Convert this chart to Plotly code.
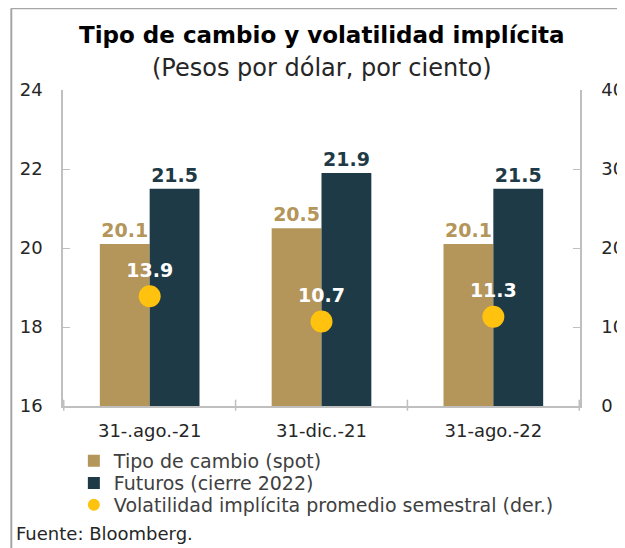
import plotly.graph_objects as go

categories = ["31-.ago.-21", "31-dic.-21", "31-ago.-22"]
spot = [20.1, 20.5, 20.1]
futuros = [21.5, 21.9, 21.5]
volatilidad = [13.9, 10.7, 11.3]

GOLD = "#B4955A"
DARK = "#1E3A46"
YELLOW = "#FFC20E"
FONT = "DejaVu Sans"

legend_x = 0.021
legend_rows = [-0.174, -0.244, -0.313]

fig = go.Figure()
fig.add_trace(go.Bar(
    x=categories, y=spot, name="Tipo de cambio (spot)", legend="legend",
    marker=dict(color=GOLD, line=dict(width=0)),
    text=[f"{v:.1f}" for v in spot], textposition="outside",
    textfont=dict(color=GOLD, size=19, family=FONT, weight="bold"),
    cliponaxis=False,
))
fig.add_trace(go.Bar(
    x=categories, y=futuros, name="Futuros (cierre 2022)", legend="legend2",
    marker=dict(color=DARK, line=dict(width=0)),
    text=[f"{v:.1f}" for v in futuros], textposition="outside",
    textfont=dict(color=DARK, size=19, family=FONT, weight="bold"),
    cliponaxis=False,
))
fig.add_trace(go.Scatter(
    x=categories, y=volatilidad, yaxis="y2", mode="markers+text", legend="legend3",
    name="Volatilidad implícita promedio semestral (der.)",
    marker=dict(color=YELLOW, size=22),
    text=[f"{v:.1f}" for v in volatilidad], textposition="top center",
    textfont=dict(color="white", size=19, family=FONT, weight="bold"),
    cliponaxis=False,
))

axis_color = "#BFBFBF"
legend_common = dict(x=legend_x, xanchor="left", yanchor="middle",
                     font=dict(size=19, color="#404040"), itemsizing="constant",
                     bgcolor="rgba(0,0,0,0)", itemwidth=30)

fig.update_layout(
    width=625, height=548,
    margin=dict(l=55, r=53, t=82, b=150, autoexpand=False),
    paper_bgcolor="white", plot_bgcolor="white",
    font=dict(family=FONT, color="#262626"),
    barmode="group", bargap=0.42, bargroupgap=0,
    showlegend=True,
    legend=dict(y=legend_rows[0], **legend_common),
    legend2=dict(y=legend_rows[1], **legend_common),
    legend3=dict(y=legend_rows[2], **legend_common),
    xaxis=dict(showline=True, linecolor=axis_color, linewidth=1.5,
               ticks="outside", ticklen=0, tickfont=dict(size=18, color="#262626"),
               showgrid=False, automargin=False, ticklabelstandoff=8),
    yaxis=dict(range=[16, 24], dtick=2, showline=True, linecolor=axis_color,
               linewidth=1.5, ticks="inside", ticklen=7, tickcolor=axis_color,
               showgrid=False, zeroline=False, ticklabelstandoff=15, automargin=False,
               tickfont=dict(size=18, color="#262626")),
    yaxis2=dict(range=[0, 40], dtick=10, overlaying="y", side="right",
                showline=True, linecolor=axis_color, linewidth=1.5,
                ticks="inside", ticklen=7, tickcolor=axis_color, automargin=False,
                showgrid=False, zeroline=False, ticklabelstandoff=16,
                tickfont=dict(size=18, color="#262626")),
    annotations=[
        dict(text="<b>Tipo de cambio y volatilidad implícita</b>", xref="paper", yref="paper",
             x=0.5, y=1.174, xanchor="center", yanchor="middle", showarrow=False,
             font=dict(size=23, color="#000000")),
        dict(text="(Pesos por dólar, por ciento)", xref="paper", yref="paper",
             x=0.5, y=1.0696, xanchor="center", yanchor="middle", showarrow=False,
             font=dict(size=24, color="#262626")),
        dict(text="Fuente: Bloomberg.", xref="paper", yref="paper",
             x=-0.0948, y=-0.402, xanchor="left", yanchor="middle", showarrow=False,
             font=dict(size=18, color="#262626")),
    ],
    shapes=[
        dict(type="line", xref="paper", yref="paper", x0=-0.1, x1=-0.1, y0=1.259, y1=-0.6,
             line=dict(color="#A6A6A6", width=2)),
        dict(type="line", xref="paper", yref="paper", x0=-0.1, x1=1.2, y0=1.259, y1=1.259,
             line=dict(color="#A6A6A6", width=2)),
    ],
)

# Category boundary ticks on the x axis
for i in range(len(categories) + 1):
    fig.add_shape(type="line", xref="x", yref="paper", x0=i - 0.5, x1=i - 0.5,
                  y0=-0.015, y1=0.02, line=dict(color=axis_color, width=1.5))

fig.write_html("out.html")
